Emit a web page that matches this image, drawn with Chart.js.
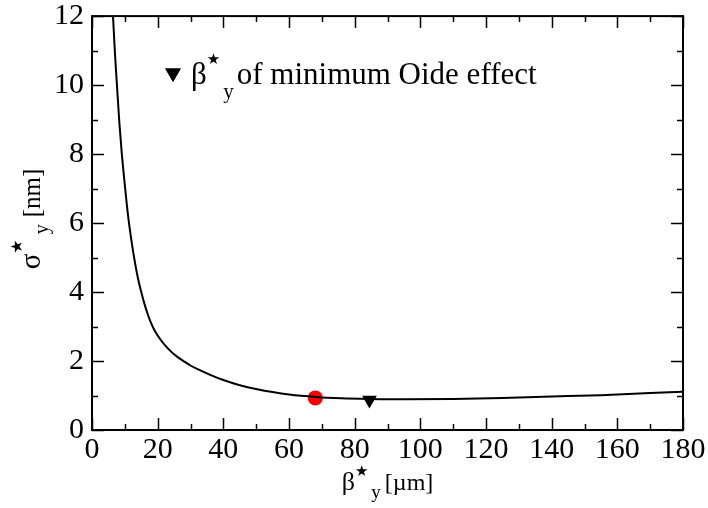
<!DOCTYPE html>
<html>
<head>
<meta charset="utf-8">
<script src="https://cdn.jsdelivr.net/npm/chart.js@4/dist/chart.umd.min.js"></script>
<style>
  body { margin: 0; background: #fff; }
  #wrap { width: 708px; height: 508px; }
</style>
</head>
<body>
<div id="wrap"><canvas id="oideChart"></canvas></div>
<script>
// sigma*_y en fonction de beta*_y

const betaY = [6.4, 7.0, 7.6, 8.3, 9.0, 10.0, 11.0, 12.0, 13.0, 14.0, 15.0, 16.0, 17.0, 18.0, 19.0, 20.0, 22.0, 24.0, 26.0, 28.0, 30.0, 33.0, 36.0, 40.0, 45.0, 50.0, 55.0, 60.0, 68.0, 76.0, 85.0, 95.0, 110.0, 125.0, 140.0, 155.0, 170.0, 180.0];
const sigmaY = [12.0, 10.9, 10.0, 8.95, 8.1, 7.1, 6.2, 5.5, 4.9, 4.4, 4.0, 3.65, 3.35, 3.1, 2.9, 2.74, 2.48, 2.28, 2.12, 1.99, 1.87, 1.73, 1.6, 1.45, 1.3, 1.19, 1.1, 1.03, 0.96, 0.92, 0.9, 0.89, 0.9, 0.93, 0.97, 1.01, 1.07, 1.11];

const pointRouge = { x: 68, y: 0.93 };
const minOide = { x: 84.5, y: 0.87 };

const xTicks = [0, 20, 40, 60, 80, 100, 120, 140, 160, 180];
const yTicks = [0, 2, 4, 6, 8, 10, 12];

const serif = '"Liberation Serif", "Times New Roman", serif';
const etoile = '"DejaVu Sans", sans-serif';

// petit texte "riche" : morceaux avec taille et décalage vertical
function texteRiche(ctx, parts, x, y, centre) {
  let w = 0;
  parts.forEach(p => {
    ctx.font = `${p.size}px ${p.font || serif}`;
    p.w = ctx.measureText(p.t).width;
    w += p.w + (p.gap || 0);
  });
  let cx = centre ? x - w / 2 : x;
  parts.forEach(p => {
    ctx.font = `${p.size}px ${p.font || serif}`;
    ctx.fillText(p.t, cx, y + (p.dy || 0));
    cx += p.w + (p.gap || 0);
  });
}

// --- cadre, graduations vers l'intérieur, titres et légende ---
const decor = {
  id: 'decor',
  afterDraw(chart) {
    const { ctx, chartArea: a, scales: { x, y } } = chart;
    ctx.save();
    ctx.strokeStyle = '#000';
    ctx.fillStyle = '#000';

    ctx.lineWidth = 1.5;
    ctx.beginPath();
    const graduer = (vals, len) => {
      vals.forEach(v => {
        const px = Math.round(x.getPixelForValue(v)) + 0.5;
        ctx.moveTo(px, a.bottom); ctx.lineTo(px, a.bottom - len);
        ctx.moveTo(px, a.top); ctx.lineTo(px, a.top + len);
      });
    };
    const graduerY = (vals, len) => {
      vals.forEach(v => {
        const py = Math.round(y.getPixelForValue(v)) + 0.5;
        ctx.moveTo(a.left, py); ctx.lineTo(a.left + len, py);
        ctx.moveTo(a.right, py); ctx.lineTo(a.right - len, py);
      });
    };
    const milieux = t => t.slice(1).map((v, i) => (v + t[i]) / 2);
    graduer(xTicks, 12);
    graduer(milieux(xTicks), 6);
    graduerY(yTicks, 12);
    graduerY(milieux(yTicks), 6);
    ctx.stroke();

    ctx.lineWidth = 2;
    ctx.strokeRect(a.left, a.top, a.right - a.left, a.bottom - a.top);

    ctx.textBaseline = 'alphabetic';

    // titre axe x
    texteRiche(ctx, [
      { t: 'β', size: 26 },
      { t: '★', size: 15, dy: -14, font: etoile, gap: 3 },
      { t: 'y', size: 19, dy: 8, gap: 4 },
      { t: '[µm]', size: 24 },
    ], (a.left + a.right) / 2, 490, true);

    // titre axe y
    ctx.save();
    ctx.translate(40, 219);
    ctx.rotate(-Math.PI / 2);
    texteRiche(ctx, [
      { t: 'σ', size: 29 },
      { t: '★', size: 16, dy: -18, font: etoile, gap: 5 },
      { t: 'y', size: 20, dy: 8, gap: 7 },
      { t: '[nm]', size: 25 },
    ], 0, 0, true);
    ctx.restore();

    // légende
    Chart.helpers.drawPoint(ctx, { pointStyle: 'triangle', rotation: 180, radius: 9, borderWidth: 0 }, 173, 73);
    ctx.fill();
    texteRiche(ctx, [
      { t: 'β', size: 31 },
      { t: '★', size: 15, dy: -20, font: etoile, gap: 3 },
      { t: 'y', size: 21, dy: 14, gap: 3 },
      { t: 'of minimum Oide effect', size: 31 },
    ], 191, 84, false);

    ctx.restore();
  }
};

new Chart(document.getElementById('oideChart'), {
  type: 'scatter',
  data: {
    datasets: [
      {
        data: betaY.map((b, i) => ({ x: b, y: sigmaY[i] })),
        showLine: true,
        borderColor: '#000',
        borderWidth: 2,
        pointRadius: 0,
        cubicInterpolationMode: 'monotone',
      },
      {
        data: [pointRouge],
        pointStyle: 'circle',
        pointRadius: 7.5,
        backgroundColor: '#ff0000',
        borderWidth: 0,
      },
      {
        data: [minOide],
        pointStyle: 'triangle',
        rotation: 180,
        pointRadius: 8.5,
        backgroundColor: '#000',
        borderWidth: 0,
      },
    ],
  },
  options: {
    responsive: true,
    maintainAspectRatio: false,
    animation: false,
    layout: { padding: { top: 0, right: 25, left: 0, bottom: 0 } },
    plugins: { legend: { display: false }, tooltip: { enabled: false } },
    scales: {
      x: {
        type: 'linear',
        min: 0,
        max: 180,
        afterBuildTicks: s => { s.ticks = xTicks.map(v => ({ value: v })); },
        afterFit: s => { s.height = 78; },
        grid: { display: false, drawTicks: false },
        border: { display: false },
        ticks: { color: '#000', padding: 2, maxRotation: 0, font: { family: serif, size: 30 } },
      },
      y: {
        type: 'linear',
        min: 0,
        max: 12,
        afterBuildTicks: s => { s.ticks = yTicks.map(v => ({ value: v })); },
        afterFit: s => { s.width = 92; },
        grid: { display: false, drawTicks: false },
        border: { display: false },
        ticks: { color: '#000', padding: 8, font: { family: serif, size: 30, lineHeight: 0.54 } },
      },
    },
  },
  plugins: [decor],
});
</script>
</body>
</html>
